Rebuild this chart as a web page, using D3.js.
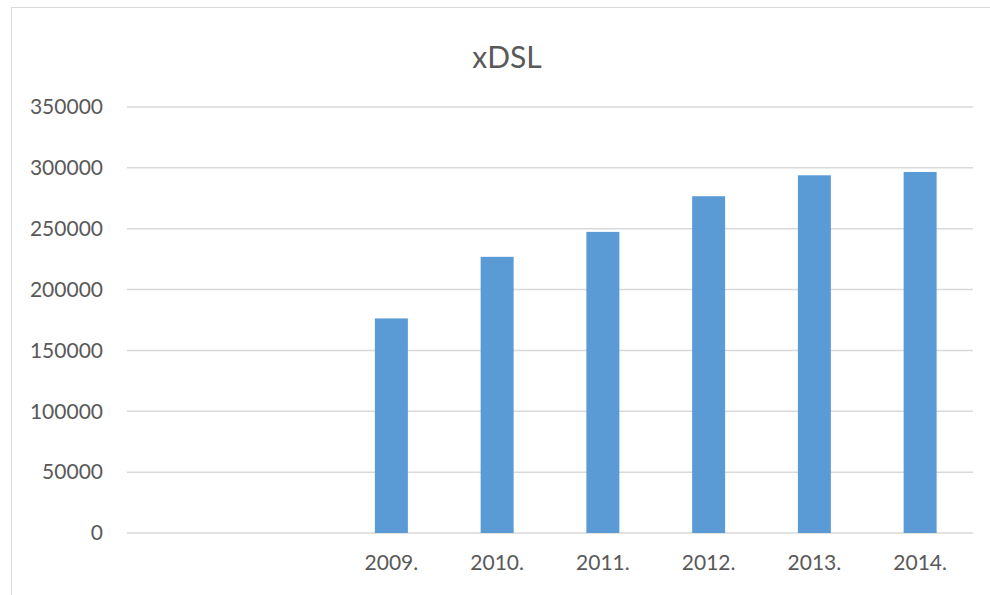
<!DOCTYPE html>
<head>
  <meta charset='utf-8'>
  <title>xDSL</title>
  <script src="https://cdnjs.cloudflare.com/ajax/libs/d3/7.8.5/d3.min.js"></script>
  <style>
    body { margin: 0; background: #fff; }
    svg text { font-family: Lato, "Open Sans", sans-serif; fill: #595959; }
    .axis path, .axis line { display: none; }
  </style>
</head>
<body>
  <div id="chart"></div>
  <script>
    // two empty slots come before 2009 in the original sheet
    var categories = ["", " ", "2009.", "2010.", "2011.", "2012.", "2013.", "2014."];
    var values = [null, null, 176300, 226900, 247400, 276700, 293900, 296600];
    var yTicks = [0, 50000, 100000, 150000, 200000, 250000, 300000, 350000];

    var width = 990,
        height = 595;

    var svg = d3.select("#chart").append("svg")
        .attr("width", width)
        .attr("height", height);

    // chart frame
    svg.append("rect")
        .attr("x", 11.5).attr("y", 7.5)
        .attr("width", 1000).attr("height", 620)
        .style("fill", "none")
        .style("stroke", "#d9d9d9");

    var x = d3.scaleBand()
        .domain(categories)
        .range([127, 973])
        .paddingInner(0.688)
        .paddingOuter(0.344);

    var y = d3.scaleLinear()
        .domain([0, 350000])
        .range([533, 107]);

    svg.selectAll(".grid")
        .data(yTicks)
      .enter().append("line")
        .attr("class", "grid")
        .attr("x1", 127).attr("x2", 973)
        .attr("y1", function(d) { return y(d); })
        .attr("y2", function(d) { return y(d); })
        .style("stroke", "#d9d9d9")
        .style("stroke-width", 1.5);

    svg.append("g")
        .attr("class", "axis")
        .attr("transform", "translate(127,0)")
        .call(d3.axisLeft(y).tickValues(yTicks).tickSize(0).tickPadding(24).tickFormat(d3.format("d")))
        .selectAll("text")
        .style("font-size", "21px");

    svg.append("g")
        .attr("class", "axis")
        .attr("transform", "translate(0,533)")
        .call(d3.axisBottom(x).tickSize(0).tickPadding(22))
        .selectAll("text")
        .style("font-size", "21px");

    svg.selectAll(".bar")
        .data(categories.map(function(c, i) { return {cat: c, v: values[i]}; })
          .filter(function(d) { return d.v != null; }))
      .enter().append("rect")
        .attr("class", "bar")
        .attr("x", function(d) { return x(d.cat); })
        .attr("y", function(d) { return y(d.v); })
        .attr("width", x.bandwidth())
        .attr("height", function(d) { return y(0) - y(d.v); })
        .style("fill", "#5b9bd5");

    svg.append("text")
        .attr("x", 507)
        .attr("y", 68)
        .attr("text-anchor", "middle")
        .style("font-size", "30px")
        .text("xDSL");
  </script>
</body>
